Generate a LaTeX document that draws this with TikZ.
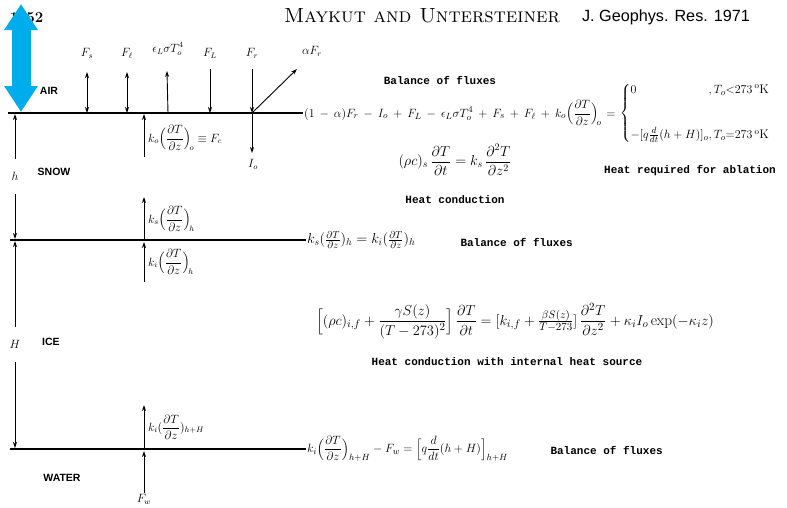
\documentclass[tikz,border=0pt]{standalone}
\usepackage{amsmath}
\usepackage{fontspec}
\setsansfont{Liberation Sans}
\setmonofont{Liberation Mono}
\usepackage{tikz}
\usetikzlibrary{arrows.meta}
\definecolor{arrowBlue}{RGB}{0, 172, 236}

\begin{document}
\begin{tikzpicture}[x=1pt, y=-1pt,
        font=\fontsize{13}{15}\selectfont,
        layer/.style={line width=1.6pt, black},
        arr/.style={-{Stealth[length=6pt, width=4pt]}, line width=0.9pt},
        dbl/.style={{Stealth[length=6pt, width=4pt]}-{Stealth[length=6pt, width=4pt]}, line width=0.9pt},
        note/.style={font=\ttfamily\bfseries\fontsize{11}{13}\selectfont},
        medium/.style={font=\sffamily\bfseries\fontsize{10.5}{12}\selectfont},
        eq/.style={inner sep=1pt, anchor=west},
        lbl/.style={inner sep=1pt, font=\fontsize{12}{14}\selectfont}
    ]
    \useasboundingbox (0,0) rectangle (787,507);

    % header
    \node[font=\rmfamily\bfseries\fontsize{15}{17}\selectfont, anchor=west] (page) at (6,18) {1452};
    \node[font=\rmfamily\fontsize{20.5}{22}\selectfont] (title) at (422,16) {\textsc{Maykut and Untersteiner}};
    \node[font=\sffamily\fontsize{16.2}{18}\selectfont] (jgr) at (666,17) {J. Geophys. Res. 1971};
    \coordinate (bluetop) at (21,4);
    \coordinate (bluebot) at (21,112);
    \draw[arrowBlue, line width=19pt, {Triangle[length=26pt, width=32pt]}-{Triangle[length=26pt, width=32pt]}] (bluetop) -- (bluebot);

    % layer boundaries
    \coordinate (air) at (8,113);
    \coordinate (snow) at (10,240);
    \coordinate (ice) at (10,449);
    \node[eq, font=\fontsize{13}{15}\selectfont] (eqtop) at (303,113) {\medmuskip=7.5mu \thickmuskip=7mu $(1-\alpha)F_r - I_o + F_L - \epsilon_L\sigma T_o^4 + F_s + F_\ell + k_o\Bigl(\dfrac{\partial T}{\partial z}\Bigr)_{\!o} =$};
    \node[eq, font=\fontsize{12.5}{14}\selectfont] (cases) at ([xshift=2pt]eqtop.east) {$\left\{\begin{array}{@{}l@{}l@{}}
            0 & ,T_o{<}273\,{}^{\mathrm{o}}\mathrm{K}\\[30pt]
            -[q\frac{d}{dt}(h+H)]_o & ,T_o{=}273\,{}^{\mathrm{o}}\mathrm{K}
        \end{array}\right.$};
    \node[eq, font=\fontsize{14}{16}\selectfont] (eqmid) at (306,240) {$k_s(\frac{\partial T}{\partial z})_h = k_i(\frac{\partial T}{\partial z})_h$};
    \node[eq, font=\fontsize{13}{15}\selectfont] (eqbot) at (306,449) {$k_i\Bigl(\dfrac{\partial T}{\partial z}\Bigr)_{h+H} - F_w = \Bigl[q\dfrac{d}{dt}(h+H)\Bigr]_{h+H}$};
    \draw[layer] (air) -- (eqtop.west);
    \draw[layer] (snow) -- (eqmid.west);
    \draw[layer] (ice) -- (eqbot.west);

    % media
    \node[medium] (lair) at (49,91) {AIR};
    \node[medium] (lsnow) at (54,172) {SNOW};
    \node[medium] (lice) at (51,342) {ICE};
    \node[medium] (lwater) at (62,478) {WATER};

    % thicknesses
    \draw[dbl] (15,114) -- node[fill=white, inner ysep=13pt, inner xsep=1pt] (dh) {$h$} (15,239);
    \draw[dbl] (15,241) -- node[fill=white, inner ysep=13pt, inner xsep=1pt] (dH) {$H$} (15,448);

    % surface fluxes
    \node[lbl] (Fs) at (87,53) {$F_s$};
    \node[lbl] (Fl) at (127,53) {$F_\ell$};
    \node[lbl] (Fe) at (168,49) {$\epsilon_L\sigma T_o^4$};
    \node[lbl] (FL) at (210,53) {$F_L$};
    \node[lbl] (Fr) at (252,53) {$F_r$};
    \node[lbl] (aFr) at (312,51) {$\alpha F_r$};
    \node[lbl] (Io) at (253,164) {$I_o$};
    \draw[dbl] (87,72) -- (Fs |- air);
    \draw[dbl] (127,72) -- (Fl |- air);
    \draw[arr] (Fe |- air) -- (167,71);
    \draw[arr] (210,69) -- (FL |- air);
    \draw[arr] (252,69) -- (Fr |- air);
    \draw[arr] (Fr |- air) -- (297,69);
    \draw[arr] (Fr |- air) -- (252,153);

    % conductive fluxes
    \node[lbl, anchor=west] (Fc) at (147,138) {$k_o\Bigl(\dfrac{\partial T}{\partial z}\Bigr)_{\!o} \equiv F_c$};
    \node[lbl, anchor=west] (ks) at (147,219) {$k_s\Bigl(\dfrac{\partial T}{\partial z}\Bigr)_{\!h}$};
    \node[lbl, anchor=west] (ki) at (147,262) {$k_i\Bigl(\dfrac{\partial T}{\partial z}\Bigr)_{\!h}$};
    \node[lbl, anchor=west] (kiH) at (147,427) {$k_i(\dfrac{\partial T}{\partial z})_{h+H}$};
    \node[lbl] (Fw) at (144,499) {$F_w$};
    \draw[arr] (144,157) -- (144,114);
    \draw[arr] (144,240) -- (144,197);
    \draw[arr] (144,282) -- (144,242);
    \draw[arr] (144,449) -- (144,405);
    \draw[arr] (Fw.north) -- (144,451);

    % equations and notes
    \node[note] (bal1) at (440,80) {Balance of fluxes};
    \node[font=\fontsize{14}{16}\selectfont] (eqsnow) at (455,160) {$(\rho c)_s\,\dfrac{\partial T}{\partial t} = k_s\,\dfrac{\partial^2 T}{\partial z^2}$};
    \node[note] (cond1) at (455,200) {Heat conduction};
    \node[note] (abl) at (690,171) {Heat required for ablation};
    \node[note, anchor=west] (bal2) at (457,242) {Balance of fluxes};
    \node[font=\fontsize{15.3}{17}\selectfont] (eqice) at (515,321) {$\Bigl[(\rho c)_{i,f} + \dfrac{\gamma S(z)}{(T-273)^2}\Bigr]\,\dfrac{\partial T}{\partial t} = [k_{i,f} + \frac{\beta S(z)}{T-273}]\,\dfrac{\partial^2 T}{\partial z^2} + \kappa_i I_o \exp(-\kappa_i z)$};
    \node[note] (cond2) at (507,362) {Heat conduction with internal heat source};
    \node[note, anchor=west] (bal3) at (547,450) {Balance of fluxes};
\end{tikzpicture}
\end{document}
